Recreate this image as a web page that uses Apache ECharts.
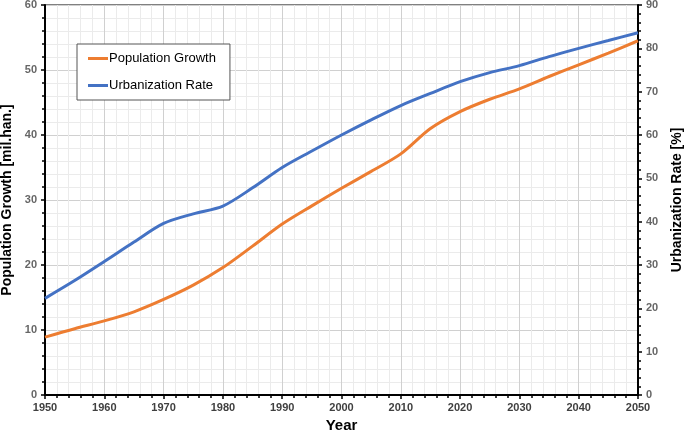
<!DOCTYPE html>
<html>
<head>
<meta charset="utf-8">
<script src="https://cdn.jsdelivr.net/npm/echarts@6/dist/echarts.min.js"></script>
<style>
html,body{margin:0;padding:0;background:#fff;}
#c{width:685px;height:433px;}
</style>
</head>
<body>
<div id="c"></div>
<script>
var years = [1950,1955,1960,1965,1970,1975,1980,1985,1990,1995,2000,2005,2010,2015,2020,2025,2030,2035,2040,2045,2050];
var population = [8.9,10.2,11.4,12.8,14.7,16.9,19.6,22.9,26.3,29.1,31.8,34.4,37.1,41.0,43.6,45.5,47.1,49.0,50.8,52.6,54.5];
var urbanization = [22.3,26.4,30.8,35.3,39.6,41.8,43.6,47.8,52.5,56.3,60.0,63.5,66.8,69.6,72.3,74.4,76.0,78.1,80.0,81.8,83.6];
var seriesNames = ['Population Growth','Urbanization Rate'];
var xTitle = 'Year';
var yLeftTitle = 'Population Growth [mil.han.]';
var yRightTitle = 'Urbanization Rate [%]';

function pairs(xs, ys){ return xs.map(function(x,i){ return [x, ys[i]]; }); }

var chart = echarts.init(document.getElementById('c'));
var font = 'Liberation Sans, Arial, sans-serif';
chart.setOption({
  animation: false,
  backgroundColor: '#fff',
  grid: {left: 45, right: 47, top: 5, bottom: 38, show: true, borderColor: '#000', borderWidth: 1, backgroundColor: 'transparent', containLabel: false, outerBoundsMode: 'none'},
  legend: {
    orient: 'vertical', left: 77, top: 44,
    padding: [8, 14, 8, 11],
    itemGap: 14, itemWidth: 20, itemHeight: 3,
    icon: 'rect',
    borderColor: '#555', borderWidth: 1, backgroundColor: '#fff',
    textStyle: {fontFamily: font, fontSize: 13, color: '#000', padding: [0,0,0,-4]},
    data: seriesNames
  },
  xAxis: {
    type: 'value', min: 1950, max: 2050, interval: 10,
    name: xTitle, nameLocation: 'middle', nameGap: 22,
    nameTextStyle: {fontFamily: font, fontSize: 15, fontWeight: 'bold', color: '#000'},
    axisLine: {show: true, lineStyle: {color: '#000', width: 2}},
    axisTick: {show: true, length: 4, lineStyle: {color: '#000', width: 1.5}},
    minorTick: {show: true, splitNumber: 5, length: 3, lineStyle: {color: '#000', width: 1.5}},
    axisLabel: {fontFamily: font, fontSize: 11, fontWeight: 'bold', color: '#404040', margin: 7, formatter: function(v){ return String(v); }},
    splitLine: {show: true, lineStyle: {color: '#d0d0d0', width: 1}},
    minorSplitLine: {show: true, lineStyle: {color: '#ebebeb', width: 1}}
  },
  yAxis: [{
    type: 'value', min: 0, max: 60, interval: 10, position: 'left',
    name: yLeftTitle, nameLocation: 'middle', nameGap: 28, nameRotate: 90,
    nameTextStyle: {fontFamily: font, fontSize: 14, fontWeight: 'bold', color: '#000'},
    axisLine: {show: true, lineStyle: {color: '#000', width: 2}},
    axisTick: {show: true, length: 4, lineStyle: {color: '#000', width: 1.5}},
    minorTick: {show: true, splitNumber: 5, length: 3, lineStyle: {color: '#000', width: 1.5}},
    axisLabel: {fontFamily: font, fontSize: 11, fontWeight: 'bold', color: '#666', margin: 8},
    splitLine: {show: true, lineStyle: {color: '#d0d0d0', width: 1}},
    minorSplitLine: {show: true, lineStyle: {color: '#ebebeb', width: 1}}
  },{
    type: 'value', min: 0, max: 90, interval: 10, position: 'right',
    name: yRightTitle, nameLocation: 'middle', nameGap: 32, nameRotate: 90,
    nameTextStyle: {fontFamily: font, fontSize: 14, fontWeight: 'bold', color: '#000'},
    axisLine: {show: true, lineStyle: {color: '#000', width: 2}},
    axisTick: {show: true, length: 4, lineStyle: {color: '#000', width: 1.5}},
    minorTick: {show: true, splitNumber: 5, length: 3, lineStyle: {color: '#000', width: 1.5}},
    axisLabel: {fontFamily: font, fontSize: 11, fontWeight: 'bold', color: '#666', margin: 8},
    splitLine: {show: false},
    minorSplitLine: {show: false}
  }],
  series: [{
    name: seriesNames[0], type: 'line', yAxisIndex: 0,
    data: pairs(years, population),
    smooth: 0.3, symbol: 'none',
    lineStyle: {color: '#ED7D31', width: 3}, itemStyle: {color: '#ED7D31'}
  },{
    name: seriesNames[1], type: 'line', yAxisIndex: 1,
    data: pairs(years, urbanization),
    smooth: 0.3, symbol: 'none',
    lineStyle: {color: '#4472C4', width: 3}, itemStyle: {color: '#4472C4'}
  }]
});
</script>
</body>
</html>
